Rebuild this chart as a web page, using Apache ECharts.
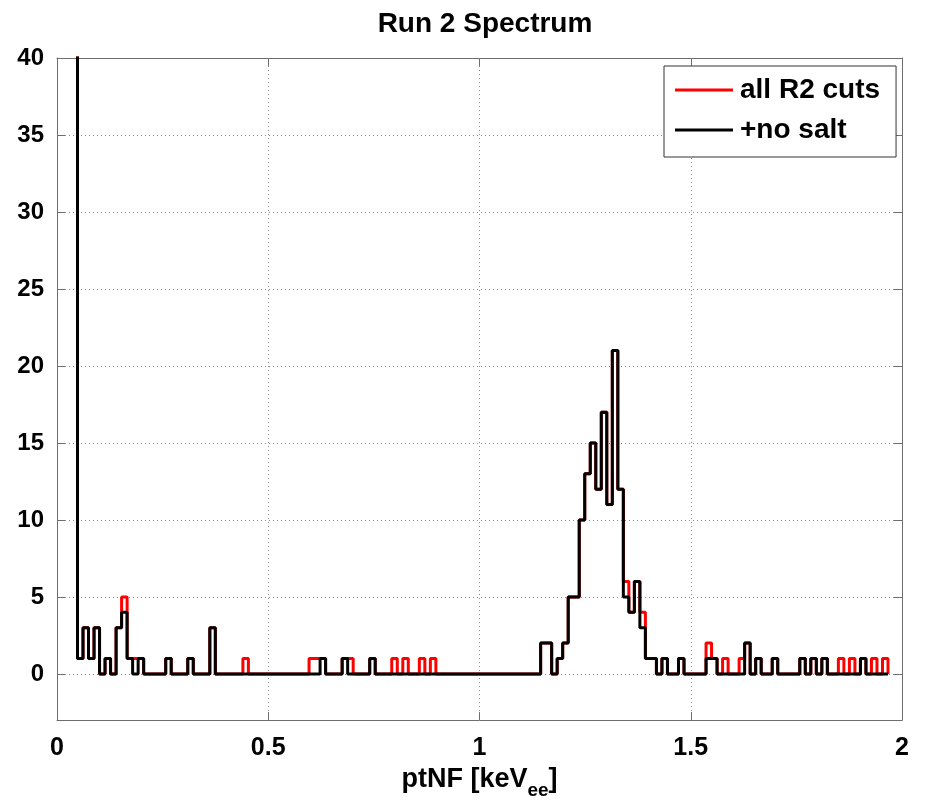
<!DOCTYPE html>
<html><head><meta charset="utf-8">
<script src="https://cdn.jsdelivr.net/npm/echarts@6/dist/echarts.min.js"></script>
<style>html,body{margin:0;padding:0;background:#fff}#c{width:929px;height:805px}</style>
</head><body><div id="c"></div>
<script>
// histogram binning (keV_ee)
const binStart = 0.0485;
const binWidth = 0.01305;
// first edge: off-scale low-energy noise count (drawn as the clipped spike)
const offscaleCount = 200;
// counts per bin, "all R2 cuts"
const allR2Cuts = [
 1,3,1,3,0,1,0,3,5,1, 1,1,0,0,0,0,1,0,0,0, 1,0,0,0,3,0,0,0,0,0,
 1,0,0,0,0,0,0,0,0,0, 0,0,1,1,1,0,0,0,1,1, 0,0,0,1,0,0,0,1,0,1,
 0,0,1,0,1,0,0,0,0,0, 0,0,0,0,0,0,0,0,0,0, 0,0,0,0,2,2,0,1,2,5,
 5,10,13,15,12,17,11,21,12,6, 4,6,4,1,1,0,1,0,0,1, 0,0,0,0,2,1,0,1,0,0,
 1,2,0,1,0,0,1,0,0,0, 0,1,0,1,0,1,0,0,1,0, 1,0,1,0,1,0,1
];
// counts per bin, "+no salt"
const noSalt = [
 1,3,1,3,0,1,0,3,4,1, 0,1,0,0,0,0,1,0,0,0, 1,0,0,0,3,0,0,0,0,0,
 0,0,0,0,0,0,0,0,0,0, 0,0,0,0,1,0,0,0,1,0, 0,0,0,1,0,0,0,0,0,0,
 0,0,0,0,0,0,0,0,0,0, 0,0,0,0,0,0,0,0,0,0, 0,0,0,0,2,2,0,1,2,5,
 5,10,13,15,12,17,11,21,12,5, 4,6,3,1,1,0,1,0,0,1, 0,0,0,0,1,1,0,0,0,0,
 0,2,0,1,0,0,1,0,0,0, 0,1,0,1,0,1,0,0,0,0, 0,0,1,0,0,0,0
];
const seriesNames = ['all R2 cuts', '+no salt'];
const seriesColors = ['#ff0000', '#000000'];
const xTickLabels = ['0', '0.5', '1', '1.5', '2'];

function steps(counts) {
  const pts = [[binStart, offscaleCount]];
  counts.forEach((c, i) => pts.push([binStart + i * binWidth, c]));
  pts.push([binStart + counts.length * binWidth, 0]);
  return pts;
}

const font = 'Liberation Sans, Arial, Helvetica, sans-serif';
const frameColor = '#6e6e6e';
const gridLine = { show: true, lineStyle: { color: '#8a8a8a', type: [1, 3], width: 1 } };

const chart = echarts.init(document.getElementById('c'), null, { renderer: 'canvas' });
chart.setOption({
  backgroundColor: '#fff',
  animation: false,
  title: {
    text: 'Run 2 Spectrum', left: 480, top: 5, textAlign: 'center',
    textStyle: { fontFamily: font, fontWeight: 'bold', fontSize: 28, color: '#000' }
  },
  grid: { left: 57, right: 27, top: 58, bottom: 84, containLabel: false },
  legend: {
    orient: 'vertical', left: 664, top: 66,
    padding: [10, 16, 13, 11], itemGap: 12, itemWidth: 58, itemHeight: 3, icon: 'rect',
    backgroundColor: '#fff', borderColor: '#333', borderWidth: 1,
    textStyle: { fontFamily: font, fontWeight: 'bold', fontSize: 28, color: '#000', padding: [0, 0, 0, 2] },
    data: seriesNames
  },
  xAxis: [{
    type: 'value', min: 0, max: 2, interval: 0.5, position: 'bottom',
    axisLine: { show: true, onZero: false, lineStyle: { color: frameColor, width: 1 } },
    axisTick: { show: true, inside: true, length: 8, lineStyle: { color: frameColor } },
    axisLabel: { margin: 16, fontFamily: font, fontWeight: 'bold', fontSize: 25, color: '#000',
      formatter: v => xTickLabels[Math.round(v / 0.5)] },
    splitLine: gridLine,
    name: '{m|ptNF [keV}{s|ee}{m|]}', nameLocation: 'middle', nameGap: 40,
    nameTextStyle: { rich: {
      m: { fontFamily: font, fontWeight: 'bold', fontSize: 27, color: '#000', lineHeight: 28, verticalAlign: 'top' },
      s: { fontFamily: font, fontWeight: 'bold', fontSize: 19, color: '#000', lineHeight: 19, verticalAlign: 'top', padding: [15, 0, 0, 0] }
    } }
  }, {
    type: 'value', min: 0, max: 2, interval: 0.5, position: 'top',
    axisLine: { show: true, onZero: false, lineStyle: { color: frameColor, width: 1 } },
    axisTick: { show: true, inside: true, length: 8, lineStyle: { color: frameColor } },
    axisLabel: { show: false }, splitLine: { show: false }
  }],
  yAxis: [{
    type: 'value', min: -3, max: 40, splitNumber: 9, position: 'left',
    axisLine: { show: true, onZero: false, lineStyle: { color: frameColor, width: 1 } },
    axisTick: { show: true, inside: true, length: 8, lineStyle: { color: frameColor } },
    axisLabel: { margin: 13, fontFamily: font, fontWeight: 'bold', fontSize: 24, color: '#000', showMinLabel: false,
      formatter: v => (v < 0 ? '' : String(v)) },
    splitLine: gridLine
  }, {
    type: 'value', min: -3, max: 40, splitNumber: 9, position: 'right',
    axisLine: { show: true, onZero: false, lineStyle: { color: frameColor, width: 1 } },
    axisTick: { show: true, inside: true, length: 8, lineStyle: { color: frameColor } },
    axisLabel: { show: false }, splitLine: { show: false }
  }],
  series: [
    { name: seriesNames[0], type: 'line', step: 'end', data: steps(allR2Cuts), showSymbol: false, symbol: 'none',
      lineStyle: { color: seriesColors[0], width: 3 }, itemStyle: { color: seriesColors[0] }, clip: true, z: 2 },
    { name: seriesNames[1], type: 'line', step: 'end', data: steps(noSalt), showSymbol: false, symbol: 'none',
      lineStyle: { color: seriesColors[1], width: 3 }, itemStyle: { color: seriesColors[1] }, clip: true, z: 3 }
  ]
});
</script></body></html>
